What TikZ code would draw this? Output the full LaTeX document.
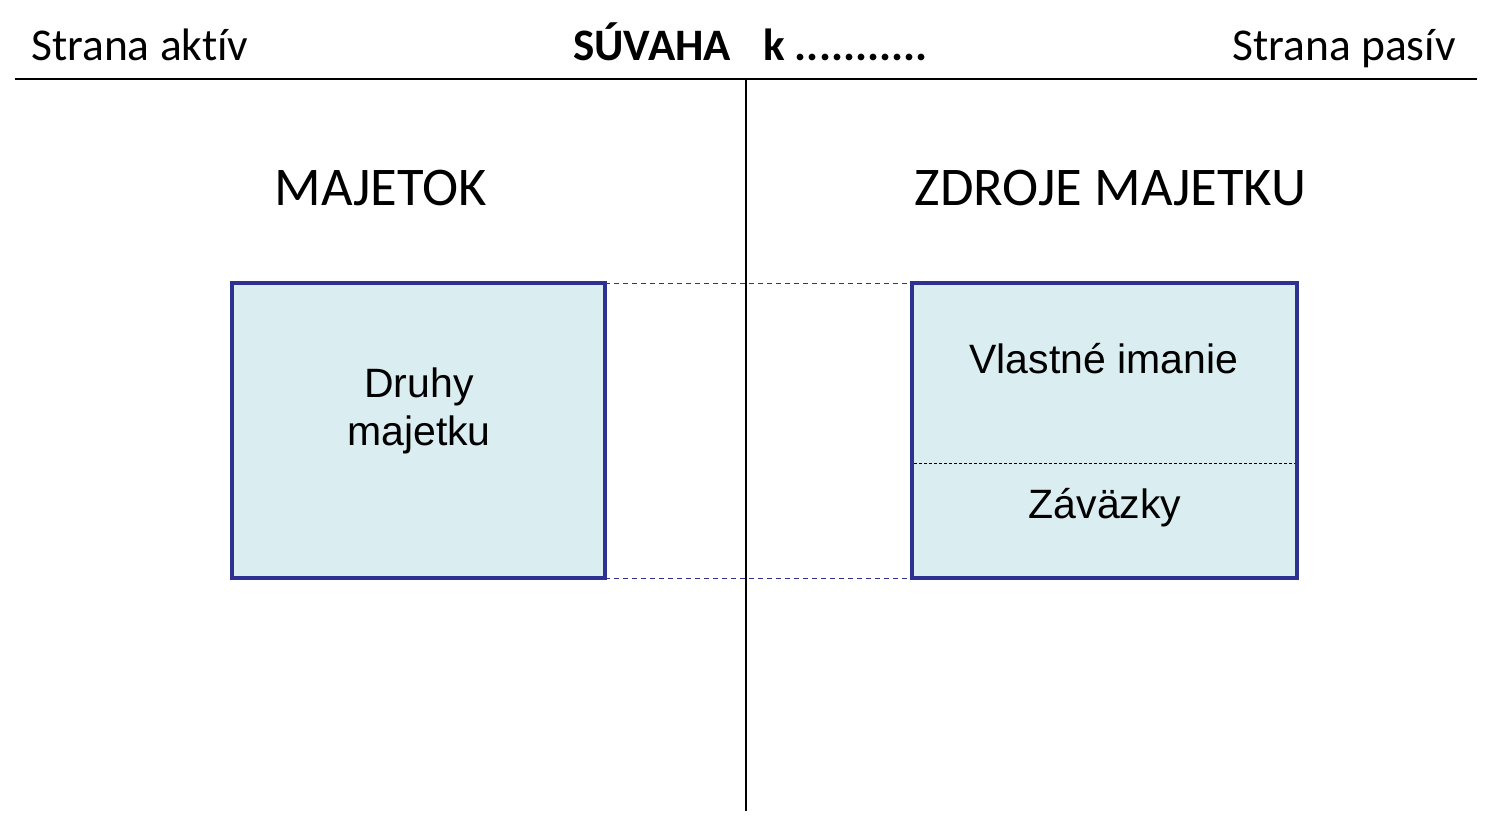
\documentclass[tikz,border=0pt]{standalone}
\usepackage{fontspec}
\setmainfont[Ligatures=NoCommon]{Carlito}
\newfontfamily\arialf{Liberation Sans}
\definecolor{navy}{HTML}{2E3192}
\definecolor{boxfill}{HTML}{DAEDF0}
\begin{document}
\begin{tikzpicture}[x=1pt,y=-1pt,
  box/.style={draw=navy,line width=3.5pt,fill=boxfill},
  guide/.style={draw=navy,line width=1pt,dash pattern=on 5pt off 4pt},
  head/.style={font=\fontsize{45.5}{52}\selectfont,anchor=base,inner sep=0pt},
  big/.style={font=\fontsize{54.5}{62}\selectfont,anchor=base,inner sep=0pt},
  lbl/.style={font=\arialf\fontsize{41}{48}\selectfont,align=center,inner sep=0pt}]
\useasboundingbox (0,0) rectangle (1500,825);
% header
\node[head,anchor=base west] (sa) at (31,60) {Strana aktív};
\node[head,anchor=base east] (sp) at (1456,60) {Strana pasív};
\node[head,anchor=base west,font=\fontsize{45}{52}\selectfont\bfseries] (suv) at (573,60) {SÚVAHA};
\node[head,anchor=base west,font=\fontsize{45}{52}\selectfont\bfseries] (kdat) at (763,60) {k ...........};
\coordinate (tl) at (15,79);
\coordinate (tr) at (1477,79);
\coordinate (vt) at (746,79);
\coordinate (vb) at (746,811);
\draw[line width=2pt] (tl) -- (tr);
\draw[line width=2pt] (vt) -- (vb);
% titles
\node[big] (maj) at (380.5,205) {MAJETOK};
\node[big] (zdr) at (1110.5,205) {ZDROJE MAJETKU};
% boxes
\draw[guide] (605,283) -- (912,283);
\draw[guide] (605,578) -- (912,578);
\node[box,minimum width=373pt,minimum height=295pt,inner sep=0pt] (left) at (418.5,430.5) {};
\node[box,minimum width=385pt,minimum height=295pt,inner sep=0pt] (right) at (1104.5,430.5) {};
\coordinate (dl) at (914,463);
\coordinate (dr) at (1295,463);
\draw[line width=1pt,dash pattern=on 3pt off 2pt] (dl) -- (dr);
\node[lbl,anchor=north] (dru) at (419,368) {Druhy\\majetku};
\node[lbl,anchor=base] (vla) at (1104,373) {Vlastné imanie};
\node[lbl,anchor=base] (zav) at (1105,518) {Záväzky};
\end{tikzpicture}
\end{document}
